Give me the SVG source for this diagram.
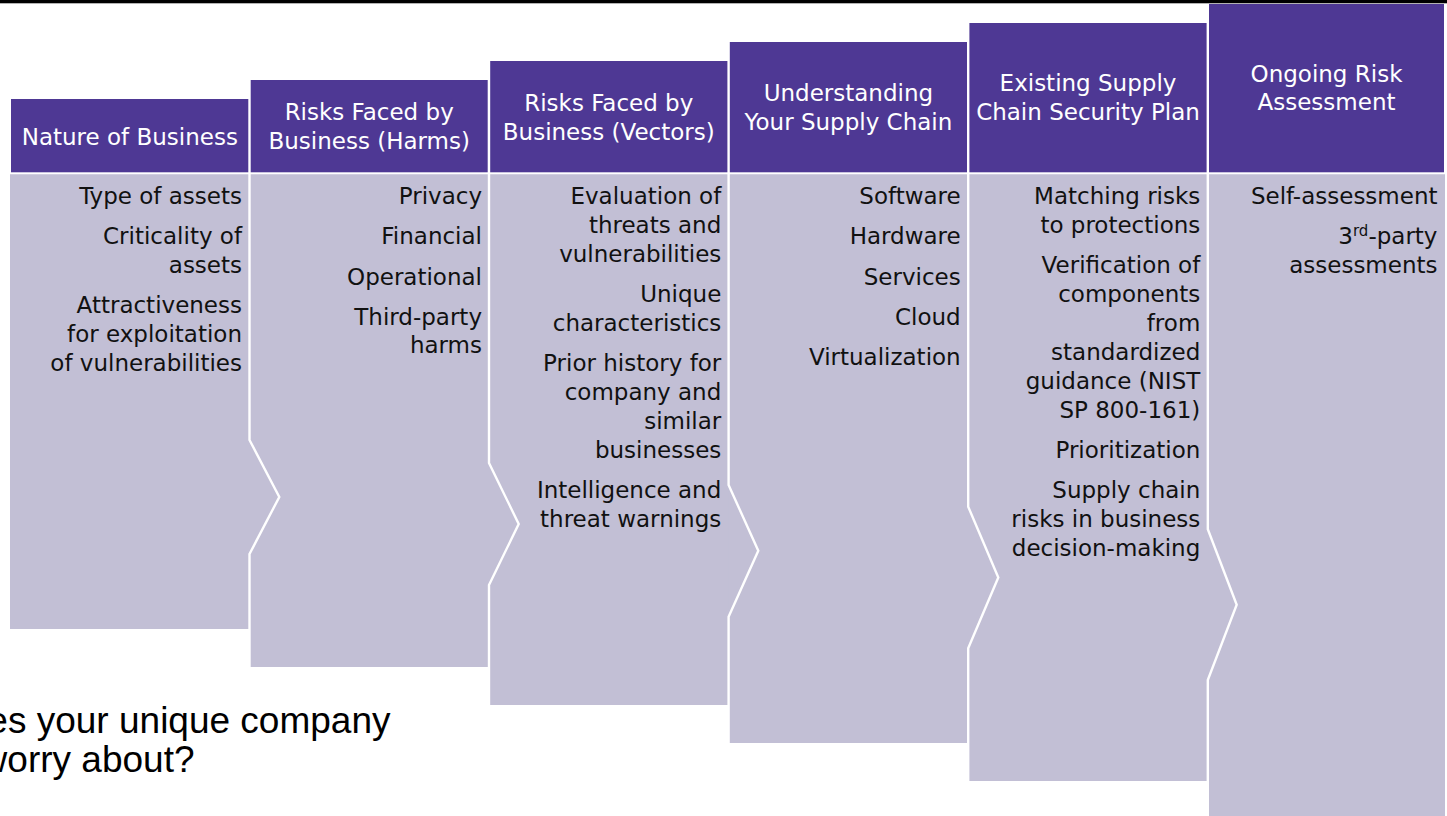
<svg xmlns="http://www.w3.org/2000/svg" width="1447" height="816" viewBox="0 0 1447 816">
  <style>
    .hdr { fill: #4E3894; }
    .body { fill: #C2BFD5; }
    .htxt { font-family: "DejaVu Sans", "Liberation Sans", sans-serif; font-size: 23px; fill: #FFFFFF; text-anchor: middle; }
    .btxt { font-family: "DejaVu Sans", "Liberation Sans", sans-serif; font-size: 23px; fill: #111111; text-anchor: end; }
    .sep { fill: none; stroke: #FFFFFF; stroke-width: 2.4; stroke-linejoin: miter; }
    .note { font-family: "Liberation Sans", Arial, sans-serif; font-size: 37px; fill: #000000; text-anchor: end; }
  </style>

  <rect width="1447" height="816" fill="#FFFFFF"/>
  <!-- top rule -->
  <rect x="0" y="0" width="1447" height="3.3" fill="#000000"/>

  <!-- column bodies (arrow tips carry into the next column) -->
  <g id="col-nature">
    <polygon class="body" points="10,174.3 249.5,174.3 249.5,440 279.3,497 249.5,554 249.5,629 10,629"/>
    <rect class="hdr" x="11" y="99" width="237.3" height="73.3"/>
    <text class="htxt" x="129.8" y="145">Nature of Business</text>
    <text class="btxt" x="242" y="204">Type of assets</text>
    <text class="btxt" x="242" y="244">Criticality of</text>
    <text class="btxt" x="242" y="273">assets</text>
    <text class="btxt" x="242" y="313">Attractiveness</text>
    <text class="btxt" x="242" y="342">for exploitation</text>
    <text class="btxt" x="242" y="371">of vulnerabilities</text>
  </g>

  <g id="col-harms">
    <polygon class="body" points="249.5,174.3 489,174.3 489,463 518.7,524 489,585 489,667 249.5,667"/>
    <rect class="hdr" x="250.7" y="80" width="237" height="92.3"/>
    <text class="htxt" x="369.2" y="120">Risks Faced by</text>
    <text class="htxt" x="369.2" y="149">Business (Harms)</text>
    <text class="btxt" x="482" y="204">Privacy</text>
    <text class="btxt" x="482" y="244">Financial</text>
    <text class="btxt" x="482" y="285">Operational</text>
    <text class="btxt" x="482" y="325">Third-party</text>
    <text class="btxt" x="482" y="353">harms</text>
  </g>

  <g id="col-vectors">
    <polygon class="body" points="489,174.3 728.6,174.3 728.6,485 758.3,550.8 728.6,616.7 728.6,705 489,705"/>
    <rect class="hdr" x="490.2" y="61" width="237.2" height="111.3"/>
    <text class="htxt" x="608.8" y="111">Risks Faced by</text>
    <text class="htxt" x="608.8" y="140">Business (Vectors)</text>
    <text class="btxt" x="721.3" y="204">Evaluation of</text>
    <text class="btxt" x="721.3" y="233">threats and</text>
    <text class="btxt" x="721.3" y="262">vulnerabilities</text>
    <text class="btxt" x="721.3" y="302">Unique</text>
    <text class="btxt" x="721.3" y="331">characteristics</text>
    <text class="btxt" x="721.3" y="371">Prior history for</text>
    <text class="btxt" x="721.3" y="400">company and</text>
    <text class="btxt" x="721.3" y="429">similar</text>
    <text class="btxt" x="721.3" y="458">businesses</text>
    <text class="btxt" x="721.3" y="498">Intelligence and</text>
    <text class="btxt" x="721.3" y="527">threat warnings</text>
  </g>

  <g id="col-supply-chain">
    <polygon class="body" points="728.6,174.3 968.2,174.3 968.2,506.7 998.3,577.5 968.2,648.3 968.2,743 728.6,743"/>
    <rect class="hdr" x="729.8" y="42" width="237.2" height="130.3"/>
    <text class="htxt" x="848.4" y="101">Understanding</text>
    <text class="htxt" x="848.4" y="130">Your Supply Chain</text>
    <text class="btxt" x="960.7" y="204">Software</text>
    <text class="btxt" x="960.7" y="244">Hardware</text>
    <text class="btxt" x="960.7" y="285">Services</text>
    <text class="btxt" x="960.7" y="325">Cloud</text>
    <text class="btxt" x="960.7" y="365">Virtualization</text>
  </g>

  <g id="col-plan">
    <polygon class="body" points="968.2,174.3 1207.8,174.3 1207.8,529.3 1236.7,604.7 1207.8,680 1207.8,781 968.2,781"/>
    <rect class="hdr" x="969.4" y="23" width="237.2" height="149.3"/>
    <text class="htxt" x="1088" y="91">Existing Supply</text>
    <text class="htxt" x="1088" y="120">Chain Security Plan</text>
    <text class="btxt" x="1200.3" y="204">Matching risks</text>
    <text class="btxt" x="1200.3" y="233">to protections</text>
    <text class="btxt" x="1200.3" y="273">Verification of</text>
    <text class="btxt" x="1200.3" y="302">components</text>
    <text class="btxt" x="1200.3" y="331">from</text>
    <text class="btxt" x="1200.3" y="360">standardized</text>
    <text class="btxt" x="1200.3" y="389">guidance (NIST</text>
    <text class="btxt" x="1200.3" y="418">SP 800-161)</text>
    <text class="btxt" x="1200.3" y="458">Prioritization</text>
    <text class="btxt" x="1200.3" y="498">Supply chain</text>
    <text class="btxt" x="1200.3" y="527">risks in business</text>
    <text class="btxt" x="1200.3" y="556">decision-making</text>
  </g>

  <g id="col-ongoing">
    <polygon class="body" points="1207.8,174.3 1445,174.3 1445,816 1207.8,816"/>
    <rect class="hdr" x="1209" y="4" width="235" height="168.3"/>
    <text class="htxt" x="1326.5" y="82">Ongoing Risk</text>
    <text class="htxt" x="1326.5" y="110">Assessment</text>
    <text class="btxt" x="1437.5" y="204">Self-assessment</text>
    <text class="btxt" x="1437.5" y="244">3<tspan font-size="15" dy="-8">rd</tspan><tspan dy="8">-party</tspan></text>
    <text class="btxt" x="1437.5" y="273">assessments</text>
  </g>

  <!-- white chevron seams between neighbouring columns -->
  <g id="connectors">
    <polyline class="sep" points="249.5,173 249.5,440 279.3,497 249.5,554 249.5,668"/>
    <polyline class="sep" points="489,173 489,463 518.7,524 489,585 489,706"/>
    <polyline class="sep" points="728.6,173 728.6,485 758.3,550.8 728.6,616.7 728.6,744"/>
    <polyline class="sep" points="968.2,173 968.2,506.7 998.3,577.5 968.2,648.3 968.2,782"/>
    <polyline class="sep" points="1207.8,173 1207.8,529.3 1236.7,604.7 1207.8,680 1207.8,816"/>
  </g>

  <!-- caption text running off the left edge -->
  <g id="caption">
    <text class="note" x="390.5" y="733">es your unique company</text>
    <text class="note" x="194.5" y="772">worry about?</text>
  </g>
</svg>
